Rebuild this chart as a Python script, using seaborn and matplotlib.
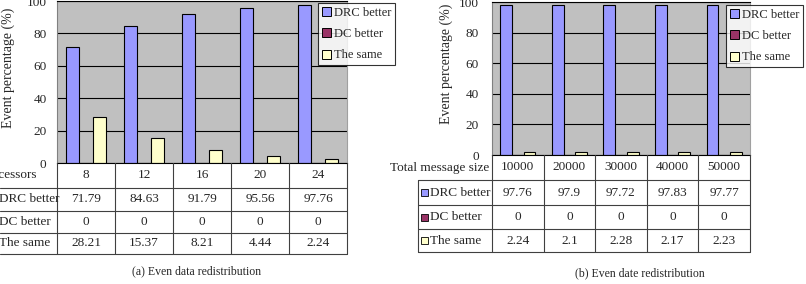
import matplotlib
matplotlib.use("Agg")
import matplotlib.pyplot as plt
import matplotlib.transforms as mtrans
from matplotlib.lines import Line2D
from matplotlib.patches import Patch, Rectangle
import seaborn as sns
import pandas as pd

# ---------------- data ----------------
series = ["DRC better", "DC better", "The same"]
colors = ["#9999FF", "#993366", "#FFFFCC"]

proc_labels = ["8", "12", "16", "20", "24"]
proc_drc = [71.79, 84.63, 91.79, 95.56, 97.76]
proc_dc = [0, 0, 0, 0, 0]
proc_same = [28.21, 15.37, 8.21, 4.44, 2.24]

size_labels = ["10000", "20000", "30000", "40000", "50000"]
size_drc = [97.76, 97.9, 97.72, 97.83, 97.77]
size_dc = [0, 0, 0, 0, 0]
size_same = [2.24, 2.1, 2.28, 2.17, 2.23]

yticks = [0, 20, 40, 60, 80, 100]
ylabel = "Event percentage (%)"
captions = ["(a) Even data redistribution", "(b) Even date redistribution"]
headers = ["Processors", "Total message size"]

# ---------------- figure ----------------
W, H = 806, 284
sns.set_theme(style="white")
plt.rcParams["font.family"] = ["Liberation Serif", "DejaVu Serif"]

fig = plt.figure(figsize=(W / 100, H / 100), dpi=100)
fig.patch.set_facecolor("white")
pix = mtrans.Affine2D().scale(1 / W, -1 / H).translate(0, 1) + fig.transFigure


def px_axes(x0, y0, x1, y1):
    return fig.add_axes([x0 / W, 1 - y1 / H, (x1 - x0) / W, (y1 - y0) / H])


def fmt(v):
    return "{:g}".format(v)


def panel(cats, drc, dc, same, box, rows_y, label_x0, keys, header, header_x,
          legend_xy, ylab_x, ylab_y, caption, cap_xy, tick_pad):
    x0, y0, x1, y1 = box
    ax = px_axes(x0, y0, x1, y1)
    wide = pd.DataFrame({"cat": cats, series[0]: drc, series[1]: dc, series[2]: same})
    df = wide.melt(id_vars="cat", var_name="series", value_name="value")
    sns.barplot(data=df, x="cat", y="value", hue="series", hue_order=series,
                order=cats, palette=colors, width=0.68, edgecolor="black",
                linewidth=0.8, saturation=1, legend=False, ax=ax)
    ax.set_facecolor("#C0C0C0")
    ax.set_ylim(0, 100)
    ax.set_xlim(-0.5, len(cats) - 0.5)
    ax.set_yticks(yticks)
    ax.yaxis.grid(True, color="black", lw=0.8)
    ax.set_axisbelow(True)
    ax.set_xticks([])
    ax.set_xlabel("")
    ax.set_ylabel(ylabel, fontsize=10, labelpad=0)
    ax.yaxis.set_label_coords(ylab_x, ylab_y)
    ax.tick_params(axis="y", length=0, pad=tick_pad, labelsize=9.5)
    for s in ["top", "bottom"]:
        ax.spines[s].set_color("black")
    ax.spines["left"].set_color("#808080")
    ax.spines["right"].set_color("#A0A0A0")
    for s in ax.spines.values():
        s.set_linewidth(0.8)

    # legend
    handles = [Patch(facecolor=c, edgecolor="black", lw=0.7) for c in colors]
    leg = fig.legend(handles, series, loc="upper left",
                     bbox_to_anchor=legend_xy, bbox_transform=pix,
                     fontsize=9, frameon=True, fancybox=False, borderpad=0.3,
                     handlelength=0.7, handleheight=0.7, handletextpad=0.25,
                     labelspacing=0.75, borderaxespad=0)
    leg.get_frame().set_edgecolor("black")
    leg.get_frame().set_linewidth(0.8)

    # data table
    blend = mtrans.blended_transform_factory(ax.transData, pix)
    lc = "#404040"
    n = len(cats)
    top = rows_y[0]
    bot = rows_y[-1]
    for i in range(n + 1):
        fig.add_artist(Line2D([i - 0.5, i - 0.5], [top, bot], transform=blend,
                              color=lc, lw=0.8))
    for yy in rows_y[1:]:
        fig.add_artist(Line2D([label_x0, x1], [yy, yy], transform=pix,
                              color=lc, lw=0.8))
    if keys:
        fig.add_artist(Line2D([label_x0, label_x0], [rows_y[1], bot],
                              transform=pix, color=lc, lw=0.8))
    hc = (rows_y[0] + rows_y[1]) / 2
    for i, c in enumerate(cats):
        fig.text(i, hc, c, transform=blend, ha="center", va="center", fontsize=9.5)
    fig.text(header_x, hc, header, transform=pix, ha="right", va="center",
             fontsize=9.5)
    vals = [drc, dc, same]
    for r in range(3):
        yc = (rows_y[r + 1] + rows_y[r + 2]) / 2
        for i in range(n):
            fig.text(i, yc, fmt(vals[r][i]), transform=blend, ha="center",
                     va="center", fontsize=9.5)
        if keys:
            fig.add_artist(Rectangle((label_x0 + 3, yc - 3.5), 7, 7,
                                     transform=pix, facecolor=colors[r],
                                     edgecolor="black", lw=0.6))
            fig.text(label_x0 + 12, yc, series[r], transform=pix, ha="left",
                     va="center", fontsize=9.5)
        else:
            fig.text(label_x0 - 1, yc, series[r], transform=pix, ha="left",
                     va="center", fontsize=9.5)
    fig.text(cap_xy[0], cap_xy[1], caption, transform=pix, ha="center",
             va="center", fontsize=8.5)
    return ax


panel(proc_labels, proc_drc, proc_dc, proc_same,
      box=(57, 1, 347, 163), rows_y=[163, 188, 211, 233, 254], label_x0=0,
      keys=False, header=headers[0], header_x=37, legend_xy=(318, 3),
      ylab_x=-0.145, ylab_y=0.59, caption=captions[0], cap_xy=(197, 271),
      tick_pad=7.5)

panel(size_labels, size_drc, size_dc, size_same,
      box=(492, 2, 750, 155), rows_y=[155, 180, 205, 229, 252], label_x0=418,
      keys=True, header=headers[1], header_x=489, legend_xy=(726, 5),
      ylab_x=-0.151, ylab_y=0.595, caption=captions[1], cap_xy=(640, 273),
      tick_pad=9.5)

fig.savefig("out.png", dpi=100)
